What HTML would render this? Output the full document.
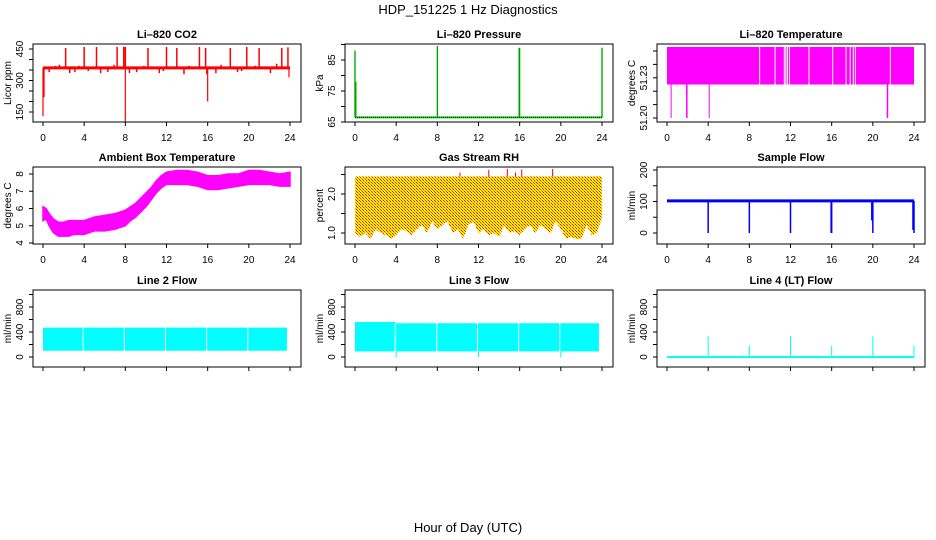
<!DOCTYPE html>
<html><head><meta charset="utf-8"><style>
html,body{margin:0;padding:0;background:#fff}
svg{display:block;font-family:"Liberation Sans",Arial,sans-serif}
</style></head><body>
<svg id="c" width="936" height="540" viewBox="0 0 936 540" xmlns="http://www.w3.org/2000/svg">
<defs>
<pattern id="rhpat" width="3" height="3" patternUnits="userSpaceOnUse">
<rect width="3" height="3" fill="#ffff00"/><rect x="0" y="0" width="1" height="1" fill="#ff0000"/><rect x="2" y="2" width="1" height="1" fill="#ff0000"/><rect x="1" y="1" width="1" height="1" fill="#f08000"/>
</pattern>
</defs>
<text x="468" y="14" font-size="13" text-anchor="middle">HDP_151225  1 Hz Diagnostics</text>
<text x="468" y="532" font-size="13" text-anchor="middle">Hour of Day (UTC)</text>
</svg>
<script>
// ---- data arrays ----
const xTicks = [0,4,8,12,16,20,24];
// CO2
const co2Base = 360;
const co2UpHours = [2.2,4.0,5.2,7.2,7.85,8.0,10.2,12.0,13.0,15.2,15.8,18.2,19.8,21.0,23.2,23.8];
const co2UpVals  = [455,460,460,460,460,460,455,460,455,460,455,455,460,455,455,458];
const co2DownHours = [0.0,0.1,8.0,15.9,16.0,23.9];
const co2DownVals  = [130,220,100,330,200,315];
const co2SmallHours = [0.6,1.2,1.6,2.6,3.1,3.5,4.4,5.6,6.3,6.9,8.4,9.1,9.8,11.3,11.7,13.7,14.2,16.8,17.3,18.9,19.3,20.6,22.1,22.7];
const co2SmallVals  = [340,370,375,335,340,370,345,335,340,375,335,340,370,335,345,330,370,335,375,340,345,370,335,380];
// Pressure
const presBase = 66.5;
const presSpikeHours = [0.0,0.08,8.0,16.0,15.95,24.0];
const presSpikeVals  = [88,78,89.5,89,88.8,89];
// Li-820 temperature
const tempLow = 51.225, tempHigh = 51.253;
const tempGapHours = [9.0,10.5,11.4,11.55,11.7,11.9,13.8,16.1,17.4,17.8,18.1,18.3,21.7];
const tempDropHours = [0.4,1.9,1.95,4.1,21.4,21.45];
const tempDropVals  = [51.20,51.20,51.20,51.20,51.20,51.20];
// Ambient box temperature
const ambHours = [0,0.3,0.6,1,1.5,2,2.5,3,3.5,4,5,6,7,8,8.5,9,9.5,10,10.5,11,11.5,12,13,14,15,16,17,18,19,20,21,22,23,24];
const ambLow   = [5.3,5.4,5.0,4.6,4.4,4.4,4.4,4.5,4.5,4.5,4.7,4.7,4.8,5.0,5.3,5.5,5.8,6.1,6.5,6.9,7.2,7.4,7.4,7.4,7.3,7.1,7.1,7.2,7.3,7.4,7.4,7.4,7.3,7.3];
const ambHigh  = [6.1,6.0,5.7,5.4,5.2,5.2,5.3,5.3,5.3,5.3,5.5,5.6,5.7,5.9,6.1,6.3,6.6,6.9,7.2,7.6,7.9,8.1,8.2,8.2,8.1,7.9,7.9,8.0,8.0,8.2,8.2,8.1,8.0,8.1];
// Gas stream RH
const rhTop = 2.45;
const rhHours = [0,0.5,1,1.5,2,2.5,3,3.5,4,4.5,5,5.5,6,6.5,7,7.5,8,8.5,9,9.5,10,10.5,11,11.5,12,12.5,13,13.5,14,14.5,15,15.5,16,16.5,17,17.5,18,18.5,19,19.5,20,20.5,21,21.5,22,22.5,23,23.5,24];
const rhLow   = [1.0,0.9,1.0,0.85,1.1,1.0,0.95,0.85,0.95,1.1,1.05,0.95,1.1,1.2,1.0,1.3,1.1,1.2,1.3,1.0,1.1,0.85,1.2,1.3,1.0,1.1,0.95,1.0,0.9,1.2,1.0,1.05,0.95,1.1,1.2,1.0,1.2,1.1,1.0,1.3,1.1,0.85,0.9,0.85,0.85,1.2,0.95,1.0,1.4];
const rhPeakHours = [13.0,14.8,16.2,19.2,15.6,10.2];
const rhPeakVals  = [2.62,2.64,2.63,2.64,2.55,2.55];
// Sample flow
const sfBase = 102;
const sfDropHours = [4.0,8.0,12.0,15.95,16.0,19.9,20.0,23.9,24.0];
const sfDropVals  = [0,0,0,0,0,40,0,10,0];
// Line flows
const l2Low = 100, l2High = 470, l2End = 23.7;
const l2GapHours = [3.9,7.9,11.9,15.9,19.9];
const l3Low = 90, l3High = [560,540], l3Switch = 4.0, l3End = 23.7;
const l3GapHours = [3.9,7.95,11.9,15.9,19.9];
const l3DipHours = [4.0,12.0,20.0];
const l3DipVals  = [-10,-5,-5];
const l4Base = 0;
const l4SpikeHours = [4,8,12,16,20,24];
const l4SpikeVals  = [330,180,330,180,330,180];

// ---- layout ----
const svg = document.getElementById('c');
const NS = 'http://www.w3.org/2000/svg';
const colX0 = [43,355,667];
const rowTop = [44,167,290], rowBot = [122,244,367];
function mk(tag, attrs, parent){const e=document.createElementNS(NS,tag);for(const k in attrs)e.setAttribute(k,attrs[k]);(parent||svg).appendChild(e);return e;}

function panel(name, col, row, title, ylab, yTicks, yLabels, v1, p1, v2, p2, showXLabels){
  const g = mk('g',{});
  
  
  const x0 = colX0[col], L = x0-10, R = x0+258, T = rowTop[row], B = rowBot[row];
  const xs = h => x0 + h*247/24;
  const ys = v => p1 + (v - v1)*(p2-p1)/(v2-v1);
  const t = mk('text',{x:(L+R)/2,y:T-6,'font-size':11,'font-weight':'bold','text-anchor':'middle'},g);
  t.textContent = title;
  
  
  const data = mk('g',{},g);
  
  
  const frame = mk('g',{},g);
  const box = mk('rect',{x:L,y:T,width:R-L,height:B-T,fill:'none',stroke:'#000','stroke-width':1},frame);
  
  
  const xa = mk('g',{},frame);
  
  
  mk('line',{x1:xs(xTicks[0]),x2:xs(xTicks[xTicks.length-1]),y1:B,y2:B,stroke:'#000'},xa);
  xTicks.forEach(h=>{
    mk('line',{x1:xs(h),x2:xs(h),y1:B,y2:B+4,stroke:'#000'},xa);
    if(showXLabels){const tl=mk('text',{x:xs(h),y:B+19,'font-size':10,'text-anchor':'middle'},xa);tl.textContent=h;}
  });
  const ya = mk('g',{},frame);
  
  
  yTicks.forEach(v=>{mk('line',{x1:L-4,x2:L,y1:ys(v),y2:ys(v),stroke:'#000'},ya);});
  yLabels.forEach(v=>{
    const y=ys(v);const tl=mk('text',{x:L-10,y:y,'font-size':10,'text-anchor':'middle',transform:`rotate(-90 ${L-10} ${y})`},ya);
    tl.textContent=v;
  });
  const yl = mk('text',{x:L-22,y:(T+B)/2,'font-size':10,'text-anchor':'middle',transform:`rotate(-90 ${L-22} ${(T+B)/2})`},frame);
  yl.textContent = ylab;
  
  
  return {g:data,xs,ys,L,R,T,B};
}
function vline(p,h,a,b,color,w){return mk('line',{x1:p.xs(h),x2:p.xs(h),y1:p.ys(a),y2:p.ys(b),stroke:color,'stroke-width':w||1},p.g);}

// CO2
let p = panel('co2',0,0,'Li\u2013820 CO2','Licor ppm',[150,200,250,300,350,400,450],[150,300,450],450,49,150,112,true);
mk('line',{x1:p.xs(0),x2:p.xs(24),y1:p.ys(co2Base),y2:p.ys(co2Base),stroke:'#ff0000','stroke-width':3},p.g);
co2UpHours.forEach((h,i)=>vline(p,h,co2Base,co2UpVals[i],'#ff0000',1.5));
co2DownHours.forEach((h,i)=>vline(p,h,co2Base,co2DownVals[i],'#ff0000',1.2));
co2SmallHours.forEach((h,i)=>vline(p,h,co2Base,co2SmallVals[i],'#ff0000',1.5));

// Pressure
p = panel('pressure',1,0,'Li\u2013820 Pressure','kPa',[65,70,75,80,85,90],[65,75,85],85,60,65,122,true);
mk('line',{x1:p.xs(0),x2:p.xs(24),y1:p.ys(presBase),y2:p.ys(presBase),stroke:'#00dd00','stroke-width':2},p.g);
mk('line',{x1:p.xs(0),x2:p.xs(24),y1:p.ys(presBase),y2:p.ys(presBase),stroke:'#000','stroke-width':1,'stroke-dasharray':'1 1'},p.g);
presSpikeHours.forEach((h,i)=>{vline(p,h,presBase,presSpikeVals[i],'#00dd00',1.4);vline(p,h,presBase,presSpikeVals[i],'#000',0.6).setAttribute('stroke-dasharray','1 1');});

// Li-820 Temperature
p = panel('li820-temp',2,0,'Li\u2013820 Temperature','degrees C',[51.20,51.21,51.22,51.23,51.24,51.25],['51.20','51.23'],51.20,118,51.25,51,true);
mk('rect',{x:p.xs(0),y:p.ys(tempHigh),width:p.xs(24)-p.xs(0),height:p.ys(tempLow)-p.ys(tempHigh),fill:'#ff00ff'},p.g);
tempGapHours.forEach(h=>vline(p,h,tempLow,tempHigh,'#ffffff',1));
tempDropHours.forEach((h,i)=>vline(p,h,tempLow,tempDropVals[i],'#ff00ff',1));

// Ambient
p = panel('ambient-temp',0,1,'Ambient Box Temperature','degrees C',[4,5,6,7,8],[4,5,6,7,8],8,174,4,243,true);
{let d='M'+ambHours.map((h,i)=>p.xs(h)+','+p.ys(ambHigh[i])).join(' L')+' L'+ambHours.slice().reverse().map((h,i)=>p.xs(h)+','+p.ys(ambLow[ambHours.length-1-i])).join(' L')+'Z';
mk('path',{d:d,fill:'#ff00ff',stroke:'#ff00ff','stroke-width':1.5},p.g);}

// RH
p = panel('gas-stream-rh',1,1,'Gas Stream RH','percent',[1.0,1.5,2.0,2.5],['1.0','2.0'],1.0,233,2.0,194,true);
{let d='M'+p.xs(0)+','+p.ys(rhTop)+' L'+p.xs(24)+','+p.ys(rhTop)+' L'+rhHours.slice().reverse().map((h,i)=>p.xs(h)+','+p.ys(rhLow[rhHours.length-1-i])).join(' L')+'Z';
mk('path',{d:d,fill:'url(#rhpat)'},p.g);
rhPeakHours.forEach((h,i)=>vline(p,h,rhTop,rhPeakVals[i],'#ff0000',1));}

// Sample flow
p = panel('sample-flow',2,1,'Sample Flow','ml/min',[0,50,100,150,200],[0,100,200],0,233,200,170,true);
mk('line',{x1:p.xs(0),x2:p.xs(24),y1:p.ys(sfBase),y2:p.ys(sfBase),stroke:'#0000ff','stroke-width':3},p.g);
sfDropHours.forEach((h,i)=>vline(p,h,sfBase,sfDropVals[i],'#0000ff',1.5));

// Line 2
p = panel('line2-flow',0,2,'Line 2 Flow','ml/min',[0,200,400,600,800,1000],[0,400,800],0,357,800,307,false);
mk('rect',{x:p.xs(0),y:p.ys(l2High),width:p.xs(l2End)-p.xs(0),height:p.ys(l2Low)-p.ys(l2High),fill:'#00ffff'},p.g);
l2GapHours.forEach(h=>vline(p,h,l2Low,l2High,'#ffffff',1));

// Line 3
p = panel('line3-flow',1,2,'Line 3 Flow','ml/min',[0,200,400,600,800,1000],[0,400,800],0,357,800,307,false);
mk('rect',{x:p.xs(0),y:p.ys(l3High[0]),width:p.xs(l3Switch)-p.xs(0),height:p.ys(l3Low)-p.ys(l3High[0]),fill:'#00ffff'},p.g);
mk('rect',{x:p.xs(l3Switch),y:p.ys(l3High[1]),width:p.xs(l3End)-p.xs(l3Switch),height:p.ys(l3Low)-p.ys(l3High[1]),fill:'#00ffff'},p.g);
l3GapHours.forEach(h=>vline(p,h,l3Low,l3High[1],'#ffffff',1));
l3DipHours.forEach((h,i)=>vline(p,h,l3Low,l3DipVals[i],'#00ffff',1));

// Line 4
p = panel('line4-flow',2,2,'Line 4 (LT) Flow','ml/min',[0,200,400,600,800,1000],[0,400,800],0,357,800,307,false);
mk('line',{x1:p.xs(0),x2:p.xs(24),y1:p.ys(l4Base),y2:p.ys(l4Base),stroke:'#00ffff','stroke-width':2},p.g);
l4SpikeHours.forEach((h,i)=>vline(p,h,l4Base,l4SpikeVals[i],'#00ffff',1));
</script>
</body></html>
